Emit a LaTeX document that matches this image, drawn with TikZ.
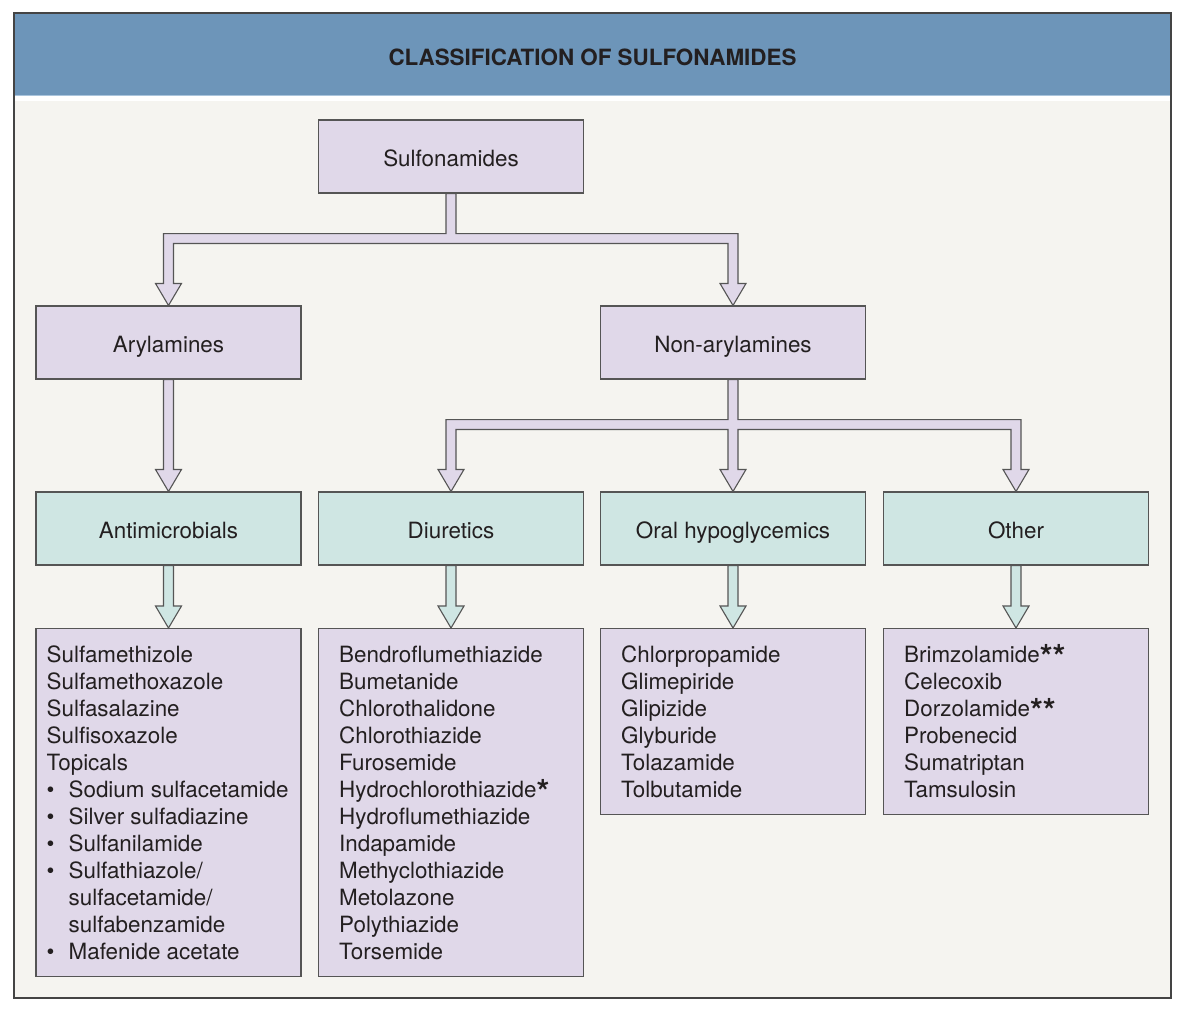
\documentclass[tikz,border=0pt]{standalone}
\usepackage{fontspec}
\setmainfont{TeX Gyre Heros}
\usetikzlibrary{calc}
\definecolor{hdr}{HTML}{6D95B9}
\definecolor{hdrline}{HTML}{A9C4DC}
\definecolor{lav}{HTML}{E0D8E9}
\definecolor{tealbox}{HTML}{CFE6E3}
\definecolor{bg}{HTML}{F5F4F0}
\definecolor{edge}{HTML}{555555}
\definecolor{ink}{HTML}{231F20}
\newcommand{\bigast}{\raisebox{-6pt}{\fontsize{33}{27}\selectfont\bfseries *}}
\begin{document}
\begin{tikzpicture}[x=1pt,y=-1pt,
  box/.style={draw=edge, line width=1.1pt, minimum width=265pt, minimum height=73pt,
    inner sep=0pt, text height=21pt, text depth=1pt, text=ink, font=\fontsize{22.4}{27}\selectfont},
  catbox/.style={box, fill=lav},
  grpbox/.style={box, fill=tealbox},
  listbox/.style={draw=edge, line width=1.1pt, fill=lav, minimum width=265pt, anchor=north, inner sep=0pt},
  listtext/.style={anchor=base west, inner sep=0pt, text=ink, font=\fontsize{22.4}{27}\selectfont},
  blockL/.style={draw=edge, line width=1.1pt, fill=lav, line join=miter},
  blockT/.style={draw=edge, line width=1.1pt, fill=tealbox, line join=miter}]
\useasboundingbox (0,0) rectangle (1184,1010);
% frame and header
\fill[bg] (14,13) rectangle (1171,998);
\fill[white] (14,94) rectangle (1171,101);
\fill[hdr] (14,13) rectangle (1171,94.5);
\fill[hdrline] (14,94.5) rectangle (1171,96);
\draw[edge!80!black, line width=1.2pt] (14,13) rectangle (1171,998);
\node[font=\fontsize{22.4}{27}\selectfont\bfseries, text=ink] (title) at (592.5,57) {CLASSIFICATION OF SULFONAMIDES};

% category boxes
\node[catbox] (sulf) at (451,156.5) {Sulfonamides};
\node[catbox] (aryl) at (168.5,342.5) {Arylamines};
\node[catbox] (nonaryl) at (733,342.5) {Non-arylamines};
\node[grpbox] (anti) at (168.5,528.5) {Antimicrobials};
\node[grpbox] (diur) at (451,528.5) {Diuretics};
\node[grpbox] (hypo) at (733,528.5) {Oral hypoglycemics};
\node[grpbox] (other) at (1016,528.5) {Other};

% list boxes
\node[listbox, minimum height=348pt] (antiL) at (168.5,628) {};
\node[listbox, minimum height=348pt] (diurL) at (451,628) {};
\node[listbox, minimum height=186pt] (hypoL) at (733,628) {};
\node[listbox, minimum height=186pt] (otherL) at (1016,628) {};

\node[listtext] (antiT) at ($(antiL.north west)+(11,34)$) {\parbox[t]{250pt}{%
Sulfamethizole\\
Sulfamethoxazole\\
Sulfasalazine\\
Sulfisoxazole\\
Topicals\\
\makebox[22pt][l]{•}Sodium sulfacetamide\\
\makebox[22pt][l]{•}Silver sulfadiazine\\
\makebox[22pt][l]{•}Sulfanilamide\\
\makebox[22pt][l]{•}Sulfathiazole/\\
\hspace*{22pt}sulfacetamide/\\
\hspace*{22pt}sulfabenzamide\\
\makebox[22pt][l]{•}Mafenide acetate}};

\node[listtext] (diurT) at ($(diurL.north west)+(21,34)$) {\parbox[t]{240pt}{%
Bendroflumethiazide\\
Bumetanide\\
Chlorothalidone\\
Chlorothiazide\\
Furosemide\\
Hydrochlorothiazide\bigast\\
Hydroflumethiazide\\
Indapamide\\
Methyclothiazide\\
Metolazone\\
Polythiazide\\
Torsemide}};

\node[listtext] (hypoT) at ($(hypoL.north west)+(21,34)$) {\parbox[t]{240pt}{%
Chlorpropamide\\
Glimepiride\\
Glipizide\\
Glyburide\\
Tolazamide\\
Tolbutamide}};

\node[listtext] (otherT) at ($(otherL.north west)+(21,34)$) {\parbox[t]{240pt}{%
Brimzolamide\bigast\bigast\\
Celecoxib\\
Dorzolamide\bigast\bigast\\
Probenecid\\
Sumatriptan\\
Tamsulosin}};

% fork from Sulfonamides
\draw[blockL] ($(sulf.south)+(-5,0)$) -- ($(sulf.south)+(-5,40)$)
  -| ($(aryl.north)+(-5,-22)$) -- ++(-8,0) -- (aryl.north) -- ($(aryl.north)+(13,-22)$) -- ++(-8,0)
  |- ($(nonaryl.north)+(-5,-62)$) -- ($(nonaryl.north)+(-5,-22)$) -- ++(-8,0) -- (nonaryl.north)
  -- ($(nonaryl.north)+(13,-22)$) -- ++(-8,0)
  |- ($(sulf.south)+(5,40)$) -- ($(sulf.south)+(5,0)$) -- cycle;

% fork from Non-arylamines
\draw[blockL] ($(nonaryl.south)+(-5,0)$) -- ($(nonaryl.south)+(-5,40)$)
  -| ($(diur.north)+(-5,-22)$) -- ++(-8,0) -- (diur.north) -- ($(diur.north)+(13,-22)$) -- ++(-8,0)
  |- ($(hypo.north)+(-5,-62)$) -- ($(hypo.north)+(-5,-22)$) -- ++(-8,0) -- (hypo.north)
  -- ($(hypo.north)+(13,-22)$) -- ++(-8,0)
  |- ($(other.north)+(-5,-62)$) -- ($(other.north)+(-5,-22)$) -- ++(-8,0) -- (other.north)
  -- ($(other.north)+(13,-22)$) -- ++(-8,0)
  |- ($(nonaryl.south)+(5,40)$) -- ($(nonaryl.south)+(5,0)$) -- cycle;

% straight arrows
\draw[blockL] ($(aryl.south)+(-5,0)$) -- ($(anti.north)+(-5,-22)$) -- ++(-8,0) -- (anti.north)
  -- ($(anti.north)+(13,-22)$) -- ++(-8,0) -- ($(aryl.south)+(5,0)$) -- cycle;
\foreach \a/\b in {anti/antiL, diur/diurL, hypo/hypoL, other/otherL}{
  \draw[blockT] ($(\a.south)+(-5,0)$) -- ($(\b.north)+(-5,-22)$) -- ++(-8,0) -- (\b.north)
    -- ($(\b.north)+(13,-22)$) -- ++(-8,0) -- ($(\a.south)+(5,0)$) -- cycle;
}
\end{tikzpicture}
\end{document}
